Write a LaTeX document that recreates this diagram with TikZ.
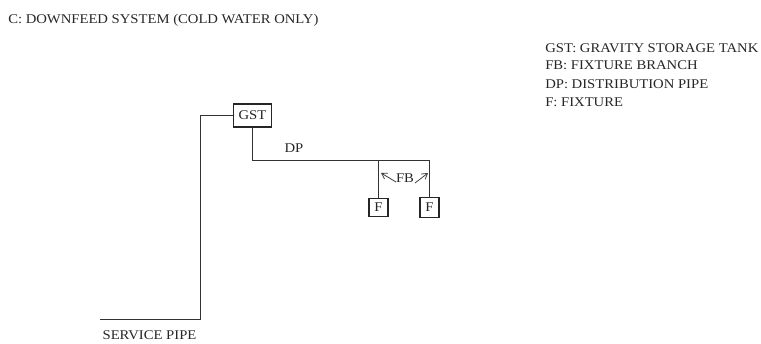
\documentclass[tikz,border=0pt]{standalone}
\usepackage{fontspec}
\setmainfont[FakeStretch=1.1]{Liberation Serif}
\usetikzlibrary{arrows.meta}
\tikzset{
  px/.style={x=0.75pt,y=-0.75pt},
  pipe/.style={draw=black!80,line width=0.9pt},
  label/.style={inner sep=0pt,font=\fontsize{10pt}{12pt}\selectfont,text=black!85},
  boxed/.style={draw=black!85,line width=0.9pt,fill=white,inner sep=0pt,font=\fontsize{10pt}{12pt}\selectfont,text=black!85},
  pointer/.style={draw=black!75,line width=0.6pt,-{Straight Barb[length=4pt,width=5pt]}}
}
\begin{document}
\begin{tikzpicture}[px]
\useasboundingbox (0,0) rectangle (761,343);
\node[label,anchor=west] (title) at (8,20) {C: DOWNFEED SYSTEM (COLD WATER ONLY)};
\node[label,anchor=west] (k1) at (545,48) {GST: GRAVITY STORAGE TANK};
\node[label,anchor=west] (k2) at (545,65) {FB: FIXTURE BRANCH};
\node[label,anchor=west] (k3) at (545,84) {DP: DISTRIBUTION PIPE};
\node[label,anchor=west] (k4) at (545,102) {F: FIXTURE};
\node[boxed,minimum width=28.5pt,minimum height=17.25pt] (gst) at (252.5,115.5) {GST};
\node[boxed,minimum width=14.25pt,minimum height=13.5pt] (f1) at (378.5,207.5) {F};
\node[boxed,minimum width=14.25pt,minimum height=15pt] (f2) at (429.5,207.5) {F};
\node[label] (dp) at (294,148) {DP};
\node[label] (fb) at (405,178) {FB};
\node[label] (sp) at (149.5,335) {SERVICE PIPE};
\coordinate (start) at (100,319.5);
\coordinate (corner) at (200.5,319.5);
\coordinate (top) at (200.5,115.5);
\coordinate (drop) at (252.5,160.5);
\coordinate (j1) at (378.5,160.5);
\coordinate (j2) at (429.5,160.5);
\coordinate (a1) at (381,173);
\coordinate (a2) at (428,173);
\coordinate (s1) at (396,182);
\coordinate (s2) at (415,183);
\draw[pipe] (start) -- (corner) -- (top) -- (gst.west);
\draw[pipe] (gst.south) -- (drop) -- (j2) -- (f2.north);
\draw[pipe] (j1) -- (f1.north);
\draw[pointer] (s1) -- (a1);
\draw[pointer] (s2) -- (a2);
\end{tikzpicture}
\end{document}
